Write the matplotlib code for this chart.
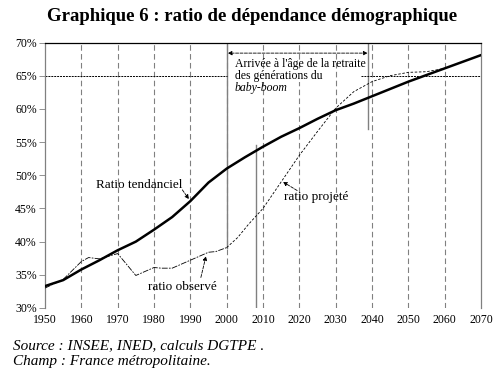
import matplotlib
matplotlib.use('Agg')
import matplotlib.pyplot as plt

plt.rcParams['font.family'] = ['Liberation Serif', 'DejaVu Serif']

# ratio tendanciel (thick line)
years_tend = [1950, 1955, 1960, 1965, 1970, 1975, 1980, 1985, 1990, 1995, 2000,
              2005, 2010, 2015, 2020, 2025, 2030, 2035, 2040, 2045, 2050, 2055,
              2060, 2065, 2070]
tend = [33.3, 34.2, 35.8, 37.2, 38.7, 40.0, 41.8, 43.7, 46.1, 48.9, 51.0,
        52.7, 54.3, 55.8, 57.1, 58.5, 59.8, 60.8, 61.9, 63.0, 64.1, 65.1,
        66.1, 67.1, 68.1]

# ratio observe
years_obs = [1950, 1955, 1960, 1962, 1965, 1970, 1975, 1980, 1982, 1985, 1990,
             1995, 1997, 2000]
obs = [33.0, 34.3, 37.0, 37.6, 37.4, 38.2, 34.9, 36.1, 36.0, 36.0, 37.2,
       38.4, 38.5, 39.1]

# ratio projete
years_proj = [2000, 2003, 2006, 2010, 2015, 2020, 2025, 2030, 2035, 2040, 2045,
              2050, 2055, 2060]
proj = [39.1, 40.6, 42.6, 45.0, 49.0, 53.0, 56.6, 60.1, 62.6, 64.1, 65.0,
        65.5, 65.6, 66.1]

xticks = list(range(1950, 2071, 10))
yticks = [30, 35, 40, 45, 50, 55, 60, 65, 70]

fig = plt.figure(figsize=(5.04, 3.86), dpi=100)
ax = fig.add_axes([45/504, 1-308/386, 436/504, 265.5/386])

grey = '#808080'
for yr in xticks[1:-1]:
    ax.axvline(yr, color=grey, lw=0.8, ls=(0, (5, 3)), zorder=1)

# solid markers
ax.plot([2000, 2000], [39.1, 70], color=grey, lw=1.0, zorder=1)
ax.plot([2008, 2008], [30, 54.5], color=grey, lw=1.0, zorder=1)
ax.plot([2039, 2039], [57.0, 70], color=grey, lw=1.0, zorder=1)

# 65% dotted line, interrupted by the text
ax.plot([1950, 2000], [65, 65], color='black', lw=0.7, ls=(0, (2, 1)), zorder=2)
ax.plot([2037, 2070], [65, 65], color='black', lw=0.7, ls=(0, (2, 1)), zorder=2)

ax.plot(years_tend, tend, color='black', lw=1.8, zorder=4)
ax.plot(years_obs, obs, color='black', lw=0.6, ls=(0, (7, 1.5, 2, 1.5)), zorder=3)
ax.plot(years_proj, proj, color='black', lw=0.6, ls=(0, (3, 2)), zorder=3)

arrow = dict(arrowstyle='-|>', color='black', lw=0.6, ls='--',
             mutation_scale=6, shrinkA=0, shrinkB=0)
ax.text(1976.0, 48.5, 'Ratio tendanciel', ha='center', va='center', fontsize=9.5)
ax.annotate('', xy=(1989.6, 46.4), xytext=(1987.8, 47.8), arrowprops=arrow)
ax.text(1987.7, 33.2, 'ratio observé', ha='center', va='center', fontsize=9.5)
ax.annotate('', xy=(1994.3, 37.8), xytext=(1992.9, 34.6), arrowprops=arrow)
ax.text(2024.6, 46.7, 'ratio projeté', ha='center', va='center', fontsize=9.5)
ax.annotate('', xy=(2015.5, 49.0), xytext=(2019.4, 47.7), arrowprops=arrow)

ax.annotate('', xy=(2000.3, 68.4), xytext=(2038.8, 68.4),
            arrowprops=dict(arrowstyle='<|-|>', color='black', lw=0.6, ls='--',
                            mutation_scale=6, shrinkA=0, shrinkB=0))
ax.text(2002.3, 66.7, "Arrivée à l'âge de la retraite", fontsize=8.5,
        va='center', ha='left', zorder=5)
ax.text(2002.3, 64.95, 'des générations du', fontsize=8.5, va='center',
        ha='left', zorder=5,
        bbox=dict(facecolor='white', edgecolor='none', pad=0))
ax.text(2002.3, 63.2, 'baby-boom', fontsize=8.5, va='center', ha='left',
        style='italic', zorder=5)

ax.set_xlim(1950, 2070)
ax.set_ylim(30, 70)
ax.set_xticks(xticks)
ax.set_yticks(yticks)
ax.set_yticklabels([f'{v}%' for v in yticks])
ax.tick_params(axis='both', labelsize=8.5)
ax.tick_params(axis='x', length=0, pad=4)
ax.tick_params(axis='y', length=4, width=0.6, color=grey, pad=2)

ax.spines['bottom'].set_visible(False)
ax.spines['left'].set_color(grey)
ax.spines['right'].set_color(grey)
ax.spines['top'].set_color('black')
for s in ax.spines.values():
    s.set_linewidth(0.9)

fig.text(0.5, 0.958, 'Graphique 6 : ratio de dépendance démographique',
         ha='center', va='center', fontsize=13.5, fontweight='bold')
fig.text(13/504, 1-346/386, 'Source : INSEE, INED, calculs DGTPE .',
         ha='left', va='center', fontsize=11, style='italic')
fig.text(13/504, 1-362/386, 'Champ : France métropolitaine.',
         ha='left', va='center', fontsize=11, style='italic')

fig.savefig('out.png', dpi=100)
